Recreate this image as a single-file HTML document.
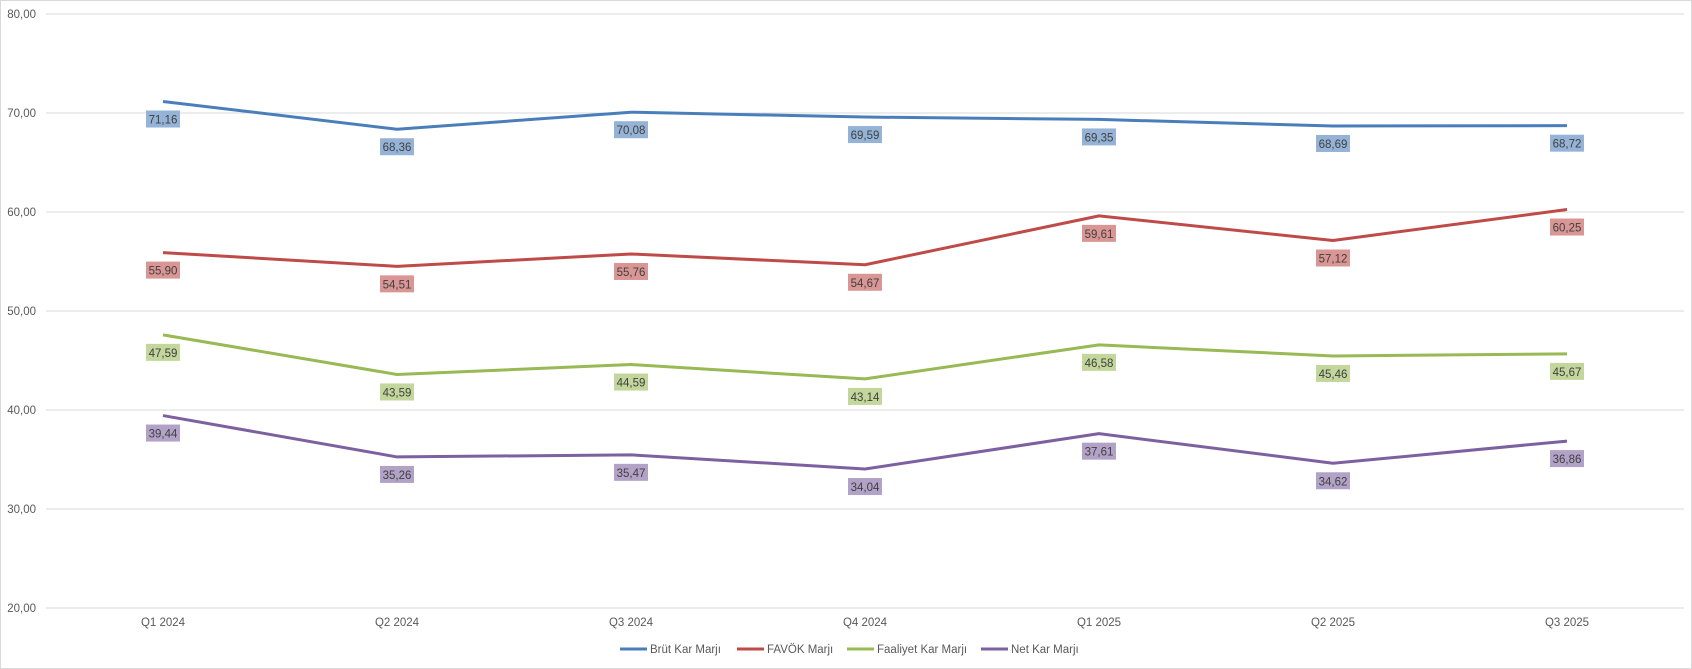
<!DOCTYPE html>
<html><head><meta charset="utf-8"><style>
html,body{margin:0;padding:0;background:#fff;}
svg{display:block;font-family:"Liberation Sans",Calibri,sans-serif;}
</style></head><body>
<svg id="c" width="1692" height="669" xmlns="http://www.w3.org/2000/svg"></svg>
<script>
const s=document.getElementById('c');let h='';
h+='<rect x="0.5" y="0.5" width="1691" height="668" fill="#fff" stroke="#d9d9d9"/>';
const y=v=>14+(80-v)*9.9;
const L=46,R=1684;
for(let v=20;v<=80;v+=10){const yy=y(v);h+=`<line x1="${L}" x2="${R}" y1="${yy}" y2="${yy}" stroke="#d9d9d9" stroke-width="1"/>`;
h+=`<text x="36" y="${yy+4}" text-anchor="end" font-size="11.5" fill="#595959">${v},00</text>`;}
const xs=[163,397,631,865,1099,1333,1567];
const cats=['Q1 2024','Q2 2024','Q3 2024','Q4 2024','Q1 2025','Q2 2025','Q3 2025'];
cats.forEach((c,i)=>h+=`<text x="${xs[i]}" y="626" text-anchor="middle" font-size="11.5" fill="#595959">${c}</text>`);
const S=[
['#4a7ebb','#95b3d7',[71.16,68.36,70.08,69.59,69.35,68.69,68.72]],
['#be4b48','#d99694',[55.90,54.51,55.76,54.67,59.61,57.12,60.25]],
['#98b954','#c3d69b',[47.59,43.59,44.59,43.14,46.58,45.46,45.67]],
['#7d60a0','#b3a2c7',[39.44,35.26,35.47,34.04,37.61,34.62,36.86]]];
S.forEach(([lc,bc,d])=>{
h+=`<polyline fill="none" stroke="${lc}" stroke-width="3" stroke-linejoin="round" points="${d.map((v,i)=>xs[i]+','+y(v)).join(' ')}"/>`;
d.forEach((v,i)=>{const yy=y(v)+9;
h+=`<rect x="${xs[i]-17}" y="${yy}" width="34" height="17" fill="${bc}"/>`;
h+=`<text x="${xs[i]}" y="${yy+13}" text-anchor="middle" font-size="11.5" fill="#404040">${v.toFixed(2).replace('.',',')}</text>`;});
});
const lg=[[620,'#4a7ebb','Brüt Kar Marjı'],[737,'#be4b48','FAVÖK Marjı'],[847,'#98b954','Faaliyet Kar Marjı'],[981,'#7d60a0','Net Kar Marjı']];
lg.forEach(([x,c,t])=>{h+=`<line x1="${x}" x2="${x+27}" y1="649" y2="649" stroke="${c}" stroke-width="3"/>`;
h+=`<text x="${x+30}" y="653" font-size="11.5" fill="#595959">${t}</text>`;});
s.innerHTML=h;
</script>
</body></html>
